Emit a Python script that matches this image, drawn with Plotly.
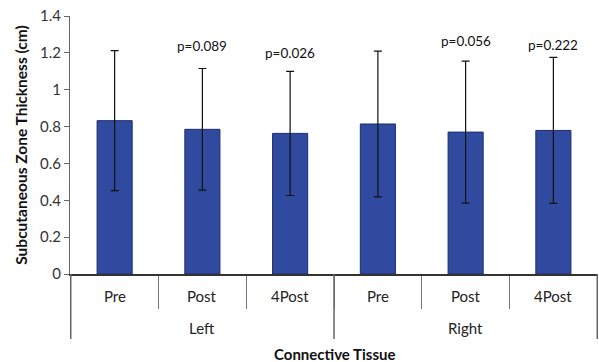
import plotly.graph_objects as go

groups = ["Left", "Left", "Left", "Right", "Right", "Right"]
times = ["Pre", "Post", "4Post", "Pre", "Post", "4Post"]
means = [0.832, 0.785, 0.763, 0.814, 0.770, 0.779]
sds = [0.38, 0.33, 0.337, 0.395, 0.385, 0.396]
pvals = ["", "p=0.089", "p=0.026", "", "p=0.056", "p=0.222"]
pval_y = [None, 1.237, 1.200, None, 1.262, 1.240]
yticks = [0, 0.2, 0.4, 0.6, 0.8, 1, 1.2, 1.4]
yticklabels = ["0", "0.2", "0.4", "0.6", "0.8", "1", "1.2", "1.4"]

W, H = 599, 362
M = dict(l=70, r=1, t=16, b=88)
plot_h = H - M["t"] - M["b"]
FONT = "Lato, Open Sans, sans-serif"

fig = go.Figure()
fig.add_trace(go.Bar(
    x=[groups, times], y=means,
    marker=dict(color="#2F4A9E", line=dict(color="#1B2E6C", width=1)),
    error_y=dict(type="data", array=sds, visible=True, color="#111111", thickness=1.2, width=4),
    width=0.4,
))

for g, t, p, py in zip(groups, times, pvals, pval_y):
    if p:
        fig.add_annotation(x=[g, t], y=py, text=p, showarrow=False,
                           font=dict(size=13.5, color="#111111"))

# first-level category labels
for i, t in enumerate(times):
    fig.add_annotation(x=i, y=0, xref="x", yref="paper", yanchor="middle",
                       yshift=-22, text=t, showarrow=False,
                       font=dict(size=15, color="#222222"))

# group labels and long dividers
ugroups = list(dict.fromkeys(groups))
bounds = [-0.5]
for g in ugroups:
    idx = [i for i, gg in enumerate(groups) if gg == g]
    fig.add_annotation(x=sum(idx) / len(idx), y=0, xref="x", yref="paper", yanchor="middle",
                       yshift=-54, text=g, showarrow=False,
                       font=dict(size=15, color="#222222"))
    bounds.append(idx[-1] + 0.5)
for b in bounds:
    fig.add_shape(type="line", xref="x", yref="paper", x0=b, x1=b, y0=0, y1=-65 / plot_h,
                  line=dict(color="#666666", width=1.5))

fig.add_annotation(x=0.5, y=0, xref="paper", yref="paper", yanchor="middle",
                   yshift=-80, text="<b>Connective Tissue</b>", showarrow=False,
                   font=dict(size=15, color="#111111"))

fig.update_layout(
    width=W, height=H,
    margin=M,
    plot_bgcolor="white", paper_bgcolor="white",
    font=dict(family=FONT, color="#222222"),
    showlegend=False,
    bargap=0.6,
)
fig.update_yaxes(
    range=[0, 1.4], tickvals=yticks, ticktext=yticklabels,
    showline=True, linecolor="#666666", linewidth=1.2,
    ticks="outside", ticklen=5, tickcolor="#666666",
    showgrid=False, zeroline=False, automargin=False,
    tickfont=dict(size=15, color="#333333"),
    title=dict(text="<b>Subcutaneous Zone Thickness (cm)</b>", font=dict(size=15.5, color="#111111"), standoff=8),
)
fig.update_xaxes(
    type="multicategory",
    showline=True, linecolor="#333333", linewidth=1.5,
    ticks="outside", tickson="boundaries", ticklen=33, tickcolor="#777777",
    showdividers=False, showticklabels=False, automargin=False,
)

fig.write_html("out.html", config={"displayModeBar": False},
               post_script="document.body.style.margin='0';")
